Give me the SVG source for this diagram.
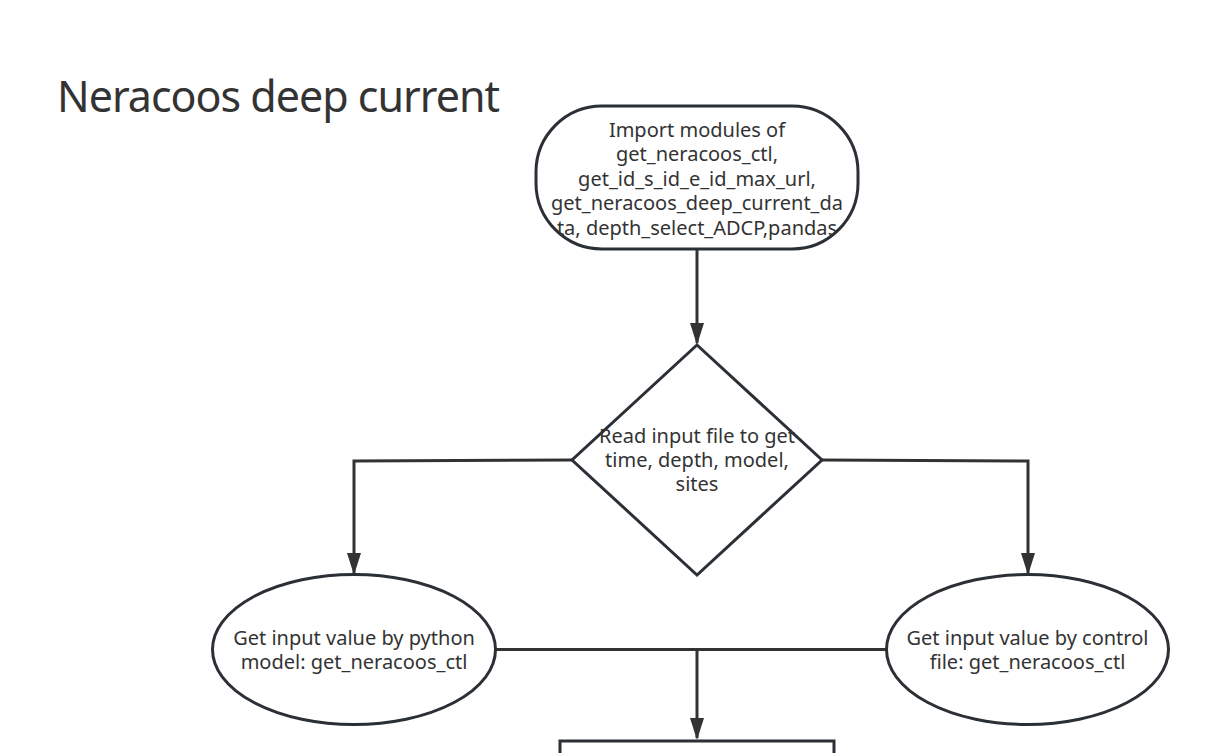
<svg xmlns="http://www.w3.org/2000/svg" width="1206" height="753" viewBox="0 0 1206 753">
<defs>
<style>
.shape{fill:#fff;stroke:#2b2f36;stroke-width:3}
.conn{fill:none;stroke:#333;stroke-width:3}
.t{font-family:"Noto Sans","Open Sans",sans-serif;font-size:20px;fill:#333;text-anchor:middle}
.title{font-family:"Noto Sans","Open Sans",sans-serif;font-size:43px;fill:#333}
</style>
</defs>
<rect width="1206" height="753" fill="#fff"/>
<text class="title" x="57" y="112" textLength="443">Neracoos deep current</text>
<g id="connectors">
<path class="conn" d="M697,249 V343"/>
<path d="M690,323 L704,323 L697,345 Z" fill="#333"/>
<path class="conn" d="M572,460 L354,461 V573"/>
<path d="M347,553 L361,553 L354,575 Z" fill="#333"/>
<path class="conn" d="M822,460 L1028,461 V573"/>
<path d="M1021,553 L1035,553 L1028,575 Z" fill="#333"/>
<path class="conn" d="M496,649.5 H886"/>
<path class="conn" d="M697,649.5 V738"/>
<path d="M690,718 L704,718 L697,740 Z" fill="#333"/>
</g>
<g id="import">
<rect class="shape" x="536" y="106" width="322" height="143" rx="66" ry="66"/>
<text class="t" x="697" y="137">Import modules of</text>
<text class="t" x="697" y="161">get_neracoos_ctl,</text>
<text class="t" x="697" y="186">get_id_s_id_e_id_max_url,</text>
<text class="t" x="697" y="210">get_neracoos_deep_current_da</text>
<text class="t" x="697" y="235">ta, depth_select_ADCP,pandas</text>
</g>
<g id="read">
<path class="shape" d="M697,345 L822,460 L697,575 L572,460 Z"/>
<text class="t" x="697" y="443">Read input file to get</text>
<text class="t" x="697" y="467">time, depth, model,</text>
<text class="t" x="697" y="491">sites</text>
</g>
<g id="python">
<ellipse class="shape" cx="354" cy="649.5" rx="141.5" ry="75"/>
<text class="t" x="354" y="645">Get input value by python</text>
<text class="t" x="354" y="669">model: get_neracoos_ctl</text>
</g>
<g id="control">
<ellipse class="shape" cx="1027.5" cy="649.5" rx="141" ry="75"/>
<text class="t" x="1027.5" y="645">Get input value by control</text>
<text class="t" x="1027.5" y="669">file: get_neracoos_ctl</text>
</g>
<g id="next">
<rect class="shape" x="560" y="741" width="274" height="40"/>
</g>
</svg>
